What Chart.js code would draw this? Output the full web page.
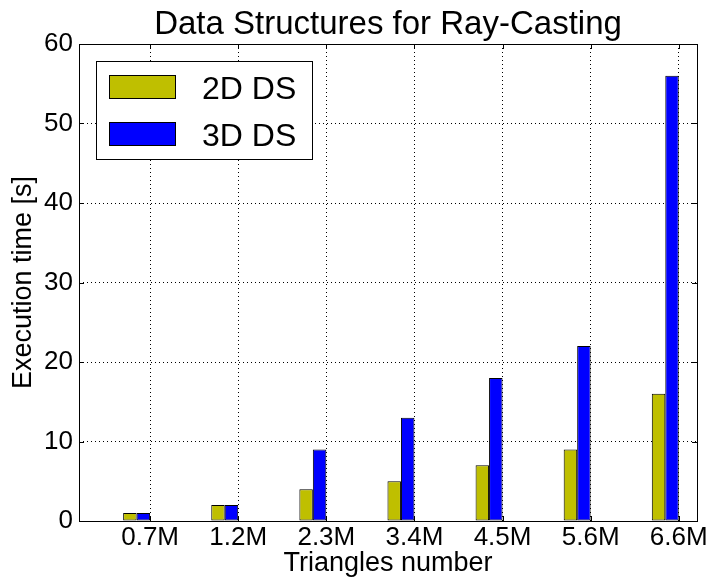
<!DOCTYPE html>
<html>
<head>
<meta charset="utf-8">
<script src="https://cdn.jsdelivr.net/npm/chart.js@4.4.1/dist/chart.umd.min.js"></script>
<style>
  html, body { margin: 0; padding: 0; background: #fff; }
  #wrap { width: 712px; height: 579px; }
</style>
</head>
<body>
<div id="wrap"><canvas id="c" width="712" height="579"></canvas></div>
<script>
// ---- data ----
const categories = ['0.7M', '1.2M', '2.3M', '3.4M', '4.5M', '5.6M', '6.6M'];
const seriesLabels = ['2D DS', '3D DS'];
const values2D = [1, 2, 4, 5, 7, 9, 16];
const values3D = [1, 2, 9, 13, 18, 22, 56];
const yTicks = [0, 10, 20, 30, 40, 50, 60];
const titleText = 'Data Structures for Ray-Casting';
const xTitle = 'Triangles number';
const yTitle = 'Execution time [s]';

// ---- style ----
const FONT = '"Liberation Sans", Arial, sans-serif';
const BAR_W = 0.153;           // bar width in category units
const colors = ['#bfbf00', '#0000ff'];

const toPoints = arr => arr.map((v, i) => ({ x: i - BAR_W, y: v }));

const framePlugin = {
  id: 'frame',
  afterDatasetsDraw(chart) {
    const { ctx, chartArea: a, scales } = chart;
    ctx.save();
    ctx.strokeStyle = '#000';
    ctx.lineWidth = 1;
    const L = 5;
    ctx.beginPath();
    scales.y.ticks.forEach(t => {
      const y = Math.round(scales.y.getPixelForValue(t.value)) + 0.5;
      ctx.moveTo(a.left, y); ctx.lineTo(a.left + L, y);
      ctx.moveTo(a.right, y); ctx.lineTo(a.right - L, y);
    });
    scales.x.ticks.forEach(t => {
      const x = Math.round(scales.x.getPixelForValue(t.value)) + 0.5;
      ctx.moveTo(x, a.bottom); ctx.lineTo(x, a.bottom - L);
      ctx.moveTo(x, a.top); ctx.lineTo(x, a.top + L);
    });
    ctx.stroke();
    ctx.strokeRect(Math.round(a.left) + 0.5, Math.round(a.top) + 0.5,
                   Math.round(a.right - a.left), Math.round(a.bottom - a.top));
    ctx.restore();
  },
  afterDraw(chart) {
    const { ctx } = chart;
    ctx.save();
    const bx = 96.5, by = 61.5, bw = 216, bh = 98;
    ctx.fillStyle = '#fff';
    ctx.fillRect(bx, by, bw, bh);
    ctx.strokeStyle = '#000';
    ctx.lineWidth = 1;
    ctx.strokeRect(bx, by, bw, bh);
    const rows = [75.5, 122.5];
    ctx.font = '32px ' + FONT;
    ctx.textBaseline = 'alphabetic';
    ctx.textAlign = 'left';
    chart.data.datasets.forEach((ds, i) => {
      ctx.fillStyle = ds.backgroundColor;
      ctx.fillRect(109.5, rows[i], 66, 23);
      ctx.strokeRect(109.5, rows[i], 66, 23);
      ctx.fillStyle = '#000';
      ctx.fillText(ds.label, 202, rows[i] + 23);
    });
    ctx.restore();
  }
};

const gridColor = (edgeVals) => (c) => {
  if (c.tick && edgeVals.includes(c.tick.value)) return 'rgba(0,0,0,0)';
  return '#000';
};

new Chart(document.getElementById('c'), {
  type: 'bar',
  data: {
    datasets: [
      { label: seriesLabels[0], data: toPoints(values2D), backgroundColor: colors[0],
        borderColor: '#000', borderWidth: 1, borderSkipped: false },
      { label: seriesLabels[1], data: toPoints(values3D), backgroundColor: colors[1],
        borderColor: '#000', borderWidth: 1, borderSkipped: false }
    ]
  },
  options: {
    responsive: false,
    animation: false,
    categoryPercentage: 2 * BAR_W,
    barPercentage: 1,
    layout: { padding: { left: 0, right: 15, top: 0, bottom: 0 } },
    plugins: {
      legend: { display: false },
      tooltip: { enabled: false },
      title: {
        display: true, text: titleText, fullSize: false, color: '#000',
        font: { family: FONT, size: 33, weight: 'normal', lineHeight: 1 },
        padding: { top: 8, bottom: 3 }
      }
    },
    scales: {
      x: {
        type: 'linear', offset: false, min: -0.807, max: 6.207,
        afterBuildTicks: s => { s.ticks = categories.map((c, i) => ({ value: i })); },
        afterFit: s => { s.height = 58; },
        ticks: {
          color: '#000', padding: 1.5, maxRotation: 0, autoSkip: false,
          font: { family: FONT, size: 26 },
          callback: v => categories[Math.round(v)] ?? ''
        },
        grid: { color: gridColor([]), lineWidth: 1, drawTicks: false, borderDash: [1, 3], offset: false },
        border: { display: false, dash: [1, 3] },
        title: {
          display: true, text: xTitle, color: '#000',
          font: { family: FONT, size: 27, lineHeight: 1 },
          padding: { top: 0, bottom: 1.5 }
        }
      },
      y: {
        min: 0, max: 60,
        afterBuildTicks: s => { s.ticks = yTicks.map(v => ({ value: v })); },
        afterFit: s => { s.width = 79; },
        ticks: { color: '#000', padding: 6, font: { family: FONT, size: 26 } },
        grid: { color: gridColor([0, 60]), lineWidth: 1, drawTicks: false, borderDash: [1, 3] },
        border: { display: false, dash: [1, 3] },
        title: {
          display: true, text: yTitle, color: '#000',
          font: { family: FONT, size: 27 },
          padding: { top: 7, bottom: 0 }
        }
      }
    }
  },
  plugins: [framePlugin]
});
</script>
</body>
</html>
